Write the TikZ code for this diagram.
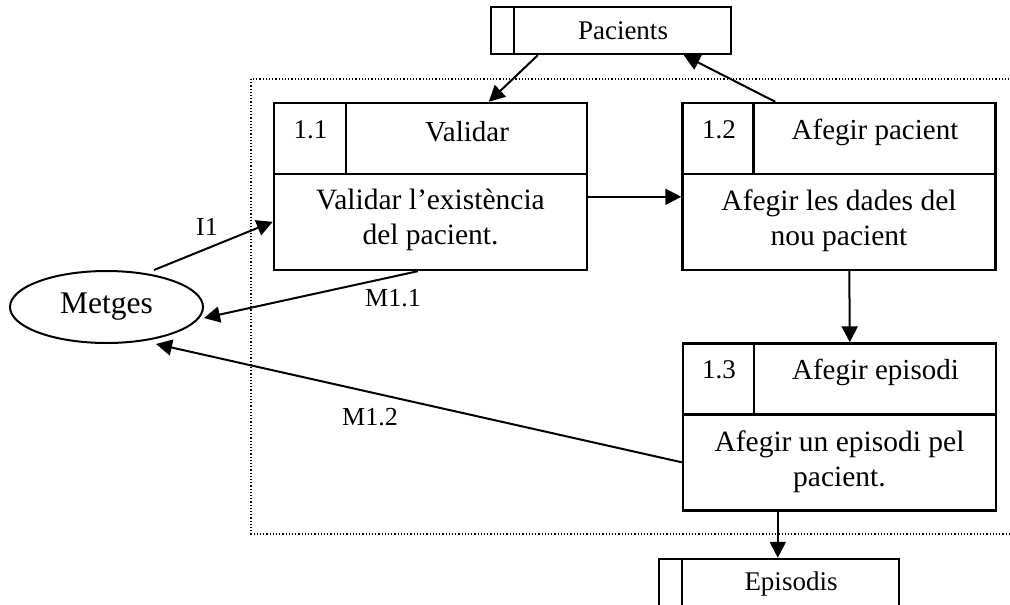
\documentclass[tikz,border=0pt]{standalone}
\usepackage{fontspec}
\setmainfont{Liberation Serif}
\usetikzlibrary{calc,arrows.meta,shapes.geometric}

\tikzset{
  wire/.style={line width=2pt},
  flow/.style={line width=2pt,-{Triangle[length=16pt,width=16pt]}},
  procbox/.style={draw,line width=2.4pt,rectangle,minimum width=313pt,minimum height=167pt,inner sep=0pt},
  storebox/.style={draw,line width=2.4pt,rectangle,minimum width=240pt,minimum height=47pt,inner sep=0pt},
  divider/.style={line width=2.4pt},
  numtxt/.style={font=\fontsize{27}{31}\selectfont,inner sep=0pt},
  titletxt/.style={font=\fontsize{29}{34}\selectfont,inner sep=0pt},
  bodytxt/.style={font=\fontsize{29.5}{35}\selectfont,align=center,inner sep=0pt},
  storetxt/.style={font=\fontsize{27}{31}\selectfont,inner sep=0pt},
  flowlbl/.style={font=\fontsize{26}{30}\selectfont,inner sep=0pt},
  boundary/.style={line width=1.2pt,dash pattern=on 1.2pt off 2pt},
}

\begin{document}
\begin{tikzpicture}[x=1pt,y=-1pt]
\clip (0,0) rectangle (1010,605);
\fill[white] (0,0) rectangle (1010,605);

% system boundary
\draw[boundary] (251,79) rectangle (1020,534);

% data stores
\node[storebox] (pac) at (611,30.5) {};
\draw[divider] ($(pac.north west)+(24,0)$) -- ($(pac.south west)+(24,0)$);
\node[storetxt] (pact) at (623,31) {Pacients};

\node[storebox] (epi) at (779,582.5) {};
\draw[divider] ($(epi.north west)+(24,0)$) -- ($(epi.south west)+(24,0)$);
\node[storetxt] (epit) at (791,584) {Episodis};

% external entity
\node[draw,ellipse,line width=2pt,minimum width=193pt,minimum height=72pt,inner sep=0pt,
      font=\fontsize{31.5}{36}\selectfont] (m) at (106.5,307) {Metges};

% processes
\node[procbox] (p11) at (430.5,186.5) {};
\node[procbox] (p12) at (839,186.5) {};
\node[procbox] (p13) at (839.5,427) {};

\foreach \p/\v in {p11/73,p12/72,p13/72}{
  \draw[divider] ($(\p.north west)+(0,72)$) -- ($(\p.north east)+(0,72)$);
  \draw[divider] ($(\p.north west)+(\v,0)$) -- ($(\p.north west)+(\v,72)$);
}

\node[numtxt]   (n11) at (310.5,130) {1.1};
\node[titletxt] (t11) at (467,132) {Validar};
\node[bodytxt]  (b11) at (430.5,220) {Validar l’existència\\del pacient.};

\node[numtxt]   (n12) at (719,130) {1.2};
\node[titletxt] (t12) at (875,132) {Afegir pacient};
\node[bodytxt]  (b12) at (839,221) {Afegir les dades del\\nou pacient};

\node[numtxt]   (n13) at (719,370) {1.3};
\node[titletxt] (t13) at (875.5,372) {Afegir episodi};
\node[bodytxt]  (b13) at (839.5,462) {Afegir un episodi pel\\pacient.};

% data flows
\draw[flow] ($(pac.south west)+(48,0)$) -- ($(p11.north west)+(216,0)$);
\draw[flow] ($(p12.north west)+(94,0)$) -- ($(pac.south west)+(194,0)$);
\draw[flow] ($(p11.north east)+(0,95)$) -- ($(p12.north west)+(0,95)$);
\draw[flow] ($(p12.south west)+(168,0)$) -- ($(p13.north west)+(168,0)$);
\draw[flow] ($(p13.south west)+(96,0)$) -- ($(epi.north west)+(120,0)$);
\draw[flow] ($(m.north)+(47.5,0)$) -- ($(p11.north west)+(0,120)$);
\draw[flow] ($(p11.south west)+(145,0)$) -- ($(m.east)+(0,11)$);
\draw[flow] ($(p13.north west)+(0,120)$) -- ($(m.south)+(49.5,0)$);

% flow labels
\node[flowlbl] (l1)  at (207,227) {I1};
\node[flowlbl] (l2)  at (393,298) {M1.1};
\node[flowlbl] (l3)  at (370,417) {M1.2};
\end{tikzpicture}
\end{document}
